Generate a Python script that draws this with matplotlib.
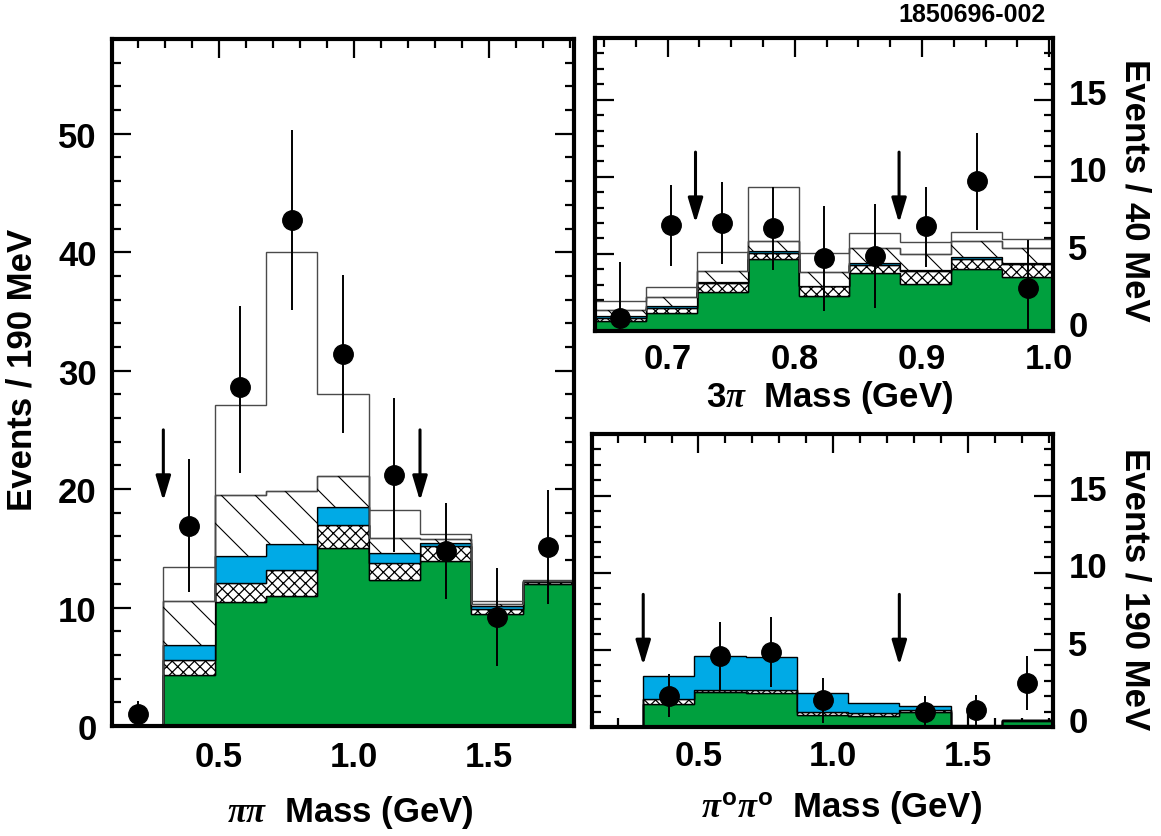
import numpy as np
import matplotlib
matplotlib.use("Agg")
import matplotlib.pyplot as plt
from matplotlib.ticker import MultipleLocator, FixedLocator, FormatStrFormatter
from matplotlib.collections import LineCollection
from matplotlib.transforms import ScaledTranslation

plt.rcParams.update({
    "font.family": ["Liberation Sans", "DejaVu Sans"],
    "font.weight": "bold",
    "axes.labelweight": "bold",
    "mathtext.fontset": "custom",
    "mathtext.rm": "Liberation Sans:bold",
    "mathtext.it": "Liberation Serif:italic",
    "mathtext.bf": "Liberation Sans:bold",
    "mathtext.fallback": "stix",
    "hatch.linewidth": 0.9,
})

# ---------------- data ----------------
# pi pi mass (190 MeV bins)
pipi_edges = [0.105, 0.295, 0.485, 0.675, 0.865, 1.055, 1.245, 1.435, 1.625, 1.815]
pipi_green = [0.0, 4.33, 10.47, 11.00, 15.06, 12.36, 13.94, 9.48, 11.96]
pipi_xhatch = [0.0, 1.21, 1.58, 2.15, 1.89, 1.44, 1.23, 0.42, 0.20]
pipi_blue = [0.0, 1.32, 2.31, 2.22, 1.55, 0.84, 0.26, 0.20, 0.09]
pipi_diag = [0.0, 3.72, 5.18, 4.51, 2.60, 1.21, 0.34, 0.20, 0.03]
pipi_open = [0.0, 2.88, 7.56, 20.12, 6.90, 2.40, 0.48, 0.26, 0.02]
pipi_data = [1.0, 16.9, 28.6, 42.7, 31.4, 21.15, 14.8, 9.2, 15.15]
pipi_err_lo = [1.1, 5.6, 7.2, 7.6, 6.7, 6.45, 4.1, 4.1, 4.85]
pipi_err_hi = [1.1, 5.6, 6.9, 7.6, 6.7, 6.5, 4.0, 4.1, 4.75]
pipi_cuts = [0.295, 1.245]
pipi_cut_tail, pipi_cut_tip = 25.0, 19.0

# 3 pi mass (40 MeV bins)
threepi_edges = [0.643, 0.683, 0.723, 0.763, 0.803, 0.843, 0.883, 0.923, 0.963, 1.003]
threepi_green = [0.67, 1.16, 2.52, 4.65, 2.30, 3.79, 3.08, 3.99, 3.53]
threepi_xhatch = [0.15, 0.31, 0.58, 0.39, 0.60, 0.50, 0.84, 0.69, 0.80]
threepi_blue = [0.13, 0.17, 0.10, 0.13, 0.05, 0.11, 0.05, 0.12, 0.09]
threepi_diag = [0.43, 0.54, 0.66, 0.69, 0.86, 0.97, 1.03, 1.04, 0.99]
threepi_open = [0.58, 0.69, 1.29, 3.49, 1.28, 0.96, 0.80, 0.60, 0.56]
threepi_data = [0.85, 6.85, 6.98, 6.66, 4.74, 4.87, 6.81, 9.74, 2.82]
threepi_err_lo = [0.85, 2.65, 2.65, 2.70, 3.43, 3.38, 2.63, 3.19, 2.82]
threepi_err_hi = [3.65, 2.65, 2.70, 2.69, 3.39, 3.36, 2.56, 3.12, 3.08]
threepi_cuts = [0.722, 0.882]
threepi_cut_tail, threepi_cut_tip = 11.6, 7.0

# pi0 pi0 mass (190 MeV bins)
pi0_edges = pipi_edges
pi0_green = [0.0, 1.52, 2.25, 2.21, 0.76, 0.70, 0.96, 0.0, 0.42]
pi0_xhatch = [0.0, 0.30, 0.17, 0.19, 0.20, 0.22, 0.17, 0.0, 0.03]
pi0_blue = [0.0, 1.51, 2.18, 2.16, 1.22, 0.64, 0.20, 0.15, 0.02]
pi0_data = [np.nan, 1.99, 4.60, 4.86, 1.73, np.nan, 1.00, 1.09, 2.88]
pi0_err_lo = [np.nan, 1.33, 2.18, 2.26, 1.46, np.nan, 1.00, 0.93, 1.79]
pi0_err_hi = [np.nan, 1.47, 2.22, 2.30, 1.45, np.nan, 0.99, 1.00, 1.70]
pi0_cuts = [0.295, 1.245]
pi0_cut_tail, pi0_cut_tip = 8.6, 4.0

GREEN = "#00a03e"
BLUE = "#00aae6"

STYLES = [
    dict(kw=dict(facecolor=GREEN, edgecolor="black", linewidth=1.0)),
    dict(kw=dict(facecolor="white", edgecolor="black", linewidth=1.0, hatch="xxx")),
    dict(kw=dict(facecolor=BLUE, edgecolor="black", linewidth=1.0)),
    dict(kw=dict(facecolor="white", edgecolor="black", linewidth=0.9), diag=True),
    dict(kw=dict(facecolor="none", edgecolor="#4a4a4a", linewidth=1.0)),
]

W_PX, H_PX = 1161, 837
fig = plt.figure(figsize=(W_PX / 100, H_PX / 100), dpi=100)
TICK_FS = 25
LABEL_FS = 25


def add_diag(ax, patch, spacing_px=34):
    inv = ax.transData.inverted()
    x0, y0, x1, y1 = ax.bbox.extents
    H = y1 - y0
    segs = []
    for c in np.arange(-H, (x1 - x0) + H, spacing_px):
        p1 = inv.transform((x0 + c, y1))
        p2 = inv.transform((x0 + c + H, y0))
        segs.append([p1, p2])
    lc = LineCollection(segs, colors="black", linewidths=0.8, zorder=patch.get_zorder() + 0.1)
    ax.add_collection(lc, autolim=False)
    lc.set_clip_path(patch)


def draw_panel(ax, edges, layers, y, lo, hi, cuts, tail, tip):
    edges = np.asarray(edges)
    base = np.zeros(len(edges) - 1)
    for vals, st in zip(layers, STYLES):
        top = base + np.asarray(vals)
        p = ax.stairs(top, edges, baseline=base, fill=True, zorder=2, **st["kw"])
        if st.get("diag"):
            add_diag(ax, p)
        base = top
    xc = 0.5 * (edges[:-1] + edges[1:])
    ax.errorbar(xc, y, yerr=[lo, hi], fmt="o", color="black", ms=14,
                elinewidth=1.4, capsize=0, zorder=5)
    for x in cuts:
        ax.annotate("", xy=(x, tip), xytext=(x, tail),
                    arrowprops=dict(arrowstyle="-|>,head_length=1.5,head_width=0.45",
                                    color="black", lw=2.2, mutation_scale=10,
                                    shrinkA=0, shrinkB=0), zorder=6)


def style_axes(ax):
    for s in ax.spines.values():
        s.set_linewidth(3.0)
    ax.tick_params(which="both", direction="in", top=True, right=True, bottom=True,
                   left=True, width=1.6, labelsize=TICK_FS)
    ax.tick_params(which="major", length=14)
    ax.tick_params(which="minor", length=6.5)


# ---- left panel: pi pi ----
ax1 = fig.add_axes([112 / W_PX, 1 - 727 / H_PX, 462 / W_PX, 687 / H_PX])
ax1.set_xlim(pipi_edges[0], pipi_edges[-1])
ax1.set_ylim(0, 58)
draw_panel(ax1, pipi_edges, [pipi_green, pipi_xhatch, pipi_blue, pipi_diag, pipi_open],
           pipi_data, pipi_err_lo, pipi_err_hi, pipi_cuts, pipi_cut_tail, pipi_cut_tip)
style_axes(ax1)
ax1.xaxis.set_major_locator(FixedLocator([0.5, 1.0, 1.5]))
ax1.xaxis.set_minor_locator(MultipleLocator(0.1))
ax1.xaxis.set_major_formatter(FormatStrFormatter("%.1f"))
ax1.yaxis.set_major_locator(MultipleLocator(10))
ax1.yaxis.set_minor_locator(MultipleLocator(2))
ax1.tick_params(axis="y", pad=11)
ax1.tick_params(axis="x", pad=10)
ax1.set_xlabel(r"$\pi\pi$  Mass (GeV)", fontsize=LABEL_FS, va="center")
ax1.xaxis.set_label_coords(0.515, -0.124)
ax1.set_ylabel("Events / 190 MeV", fontsize=LABEL_FS, va="center", ha="center")
ax1.yaxis.set_label_coords(-0.195, 0.52)

# ---- top right: 3 pi ----
ax2 = fig.add_axes([595 / W_PX, 1 - 332 / H_PX, 458 / W_PX, 293 / H_PX])
ax2.set_xlim(threepi_edges[0], threepi_edges[-1])
ax2.set_ylim(0, 19)
draw_panel(ax2, threepi_edges,
           [threepi_green, threepi_xhatch, threepi_blue, threepi_diag, threepi_open],
           threepi_data, threepi_err_lo, threepi_err_hi, threepi_cuts,
           threepi_cut_tail, threepi_cut_tip)
style_axes(ax2)
ax2.xaxis.set_major_locator(FixedLocator([0.7, 0.8, 0.9, 1.0]))
ax2.xaxis.set_minor_locator(MultipleLocator(0.025))
ax2.xaxis.set_major_formatter(FormatStrFormatter("%.1f"))
ax2.yaxis.set_major_locator(MultipleLocator(5))
ax2.yaxis.set_minor_locator(MultipleLocator(1))
ax2.tick_params(axis="y", labelleft=False, labelright=True, pad=11)
ax2.tick_params(axis="x", pad=8)
ax2.set_xlabel(r"3$\pi$  Mass (GeV)", fontsize=LABEL_FS, va="center")
ax2.xaxis.set_label_coords(0.513, -0.225)
ax2.yaxis.set_label_position("right")
ax2.set_ylabel("Events / 40 MeV", fontsize=LABEL_FS, rotation=270, va="center", ha="center")
ax2.yaxis.set_label_coords(1.179, 0.485)

# ---- bottom right: pi0 pi0 ----
ax3 = fig.add_axes([592 / W_PX, 1 - 728 / H_PX, 461 / W_PX, 293 / H_PX])
ax3.set_xlim(pi0_edges[0], pi0_edges[-1])
ax3.set_ylim(0, 19)
draw_panel(ax3, pi0_edges, [pi0_green, pi0_xhatch, pi0_blue],
           pi0_data, pi0_err_lo, pi0_err_hi, pi0_cuts, pi0_cut_tail, pi0_cut_tip)
style_axes(ax3)
ax3.xaxis.set_major_locator(FixedLocator([0.5, 1.0, 1.5]))
ax3.xaxis.set_minor_locator(MultipleLocator(0.1))
ax3.xaxis.set_major_formatter(FormatStrFormatter("%.1f"))
ax3.yaxis.set_major_locator(MultipleLocator(5))
ax3.yaxis.set_minor_locator(MultipleLocator(1))
ax3.tick_params(axis="y", labelleft=False, labelright=True, pad=11)
ax3.tick_params(axis="x", pad=9)
ax3.set_xlabel(r"$\pi^{\mathrm{o}}\pi^{\mathrm{o}}$  Mass (GeV)", fontsize=LABEL_FS, va="center")
ax3.xaxis.set_label_coords(0.542, -0.27)
ax3.yaxis.set_label_position("right")
ax3.set_ylabel("Events / 190 MeV", fontsize=LABEL_FS, rotation=270, va="center", ha="center")
ax3.yaxis.set_label_coords(1.178, 0.474)

fig.text(1046 / W_PX, 1 - 15 / H_PX, "1850696-002", ha="right", va="center",
         fontsize=18, fontweight="bold")

# right-panel y tick labels sit slightly above their ticks in the original
fig.canvas.draw()
off = ScaledTranslation(0, 6 / 72, fig.dpi_scale_trans)
for ax in (ax2, ax3):
    for t in ax.yaxis.get_major_ticks():
        t.label2.set_transform(t.label2.get_transform() + off)

fig.savefig("out.png", dpi=100)
